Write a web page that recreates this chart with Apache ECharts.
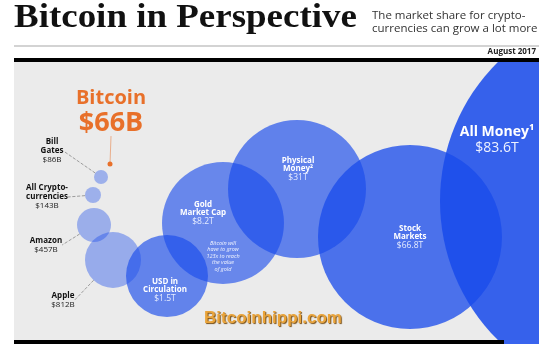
<!DOCTYPE html>
<html><head><meta charset="utf-8">
<script src="https://cdn.jsdelivr.net/npm/echarts@6/dist/echarts.min.js"></script>
<style>html,body{margin:0;padding:0;background:#fff}#c{width:539px;height:353px}</style>
</head><body><div id="c"></div>
<script>
// ---- data ----
const names = ['Bitcoin', 'Bill\nGates', 'All Crypto-\ncurrencies', 'Amazon', 'Apple',
  'USD in\nCirculation', 'Gold\nMarket Cap', 'Physical\nMoney²', 'Stock\nMarkets', 'All Money¹'];
const valueLabels = ['$66B', '$86B', '$143B', '$457B', '$812B', '$1.5T', '$8.2T', '$31T', '$66.8T', '$83.6T'];
// bubble layout of the infographic (centre x, centre y, radius) in layout units
const xPos = [110, 101, 93, 94, 113, 167, 223, 297, 410, 636];
const yPos = [164, 177, 195, 225, 260, 276, 223, 189, 237, 201];
const radius = [2.5, 7, 8, 17, 28, 41, 61, 69, 92, 196];

// ---- styling / label layout ----
const kinds = ['btc', 'out', 'out', 'out', 'out', 'in', 'in', 'in', 'in', 'big'];
const opac = [1, 0.37, 0.37, 0.38, 0.4, 0.65, 0.62, 0.66, 0.76, 0.86];
const labelShift = [[1, -52], [-49, -26], [-46, 2], [-48, 20], [-50, 40], [-2, 14], [-20, -10], [1, -20], [0, 0], [-139, -61]];
const FONT = '"Open Sans", "Noto Sans", sans-serif';

const richByKind = {
  btc: { n: { fontFamily: FONT, fontWeight: 'bold', fontSize: 20, color: '#e8702a', lineHeight: 22 },
         v: { fontFamily: FONT, fontWeight: 'bold', fontSize: 27, color: '#e8702a', lineHeight: 28 } },
  out: { n: { fontFamily: FONT, fontWeight: 'bold', fontSize: 8, color: '#111', lineHeight: 9 },
         v: { fontFamily: FONT, fontSize: 8, color: '#222', lineHeight: 9 } },
  in:  { n: { fontFamily: FONT, fontWeight: 'bold', fontSize: 8, color: '#fff', lineHeight: 8.5 },
         v: { fontFamily: FONT, fontSize: 8.5, color: '#e6ecff', lineHeight: 9 } },
  big: { n: { fontFamily: FONT, fontWeight: 'bold', fontSize: 14, color: '#fff', lineHeight: 16 },
         v: { fontFamily: FONT, fontSize: 14, color: '#eef2ff', lineHeight: 15 } }
};

const items = names.map((n, i) => {
  const k = kinds[i];
  const nameTxt = n.split('\n').map(s => '{n|' + s + '}').join('\n');
  return {
    name: n.replace('\n', ' '),
    value: [xPos[i], yPos[i], radius[i]],
    itemStyle: { color: k === 'btc' ? '#e8702a' : 'rgba(25,75,235,' + opac[i] + ')', opacity: 1 },
    label: {
      show: true, position: 'inside', align: 'center', verticalAlign: 'middle',
      formatter: nameTxt + '\n{v|' + valueLabels[i] + '}',
      rich: richByKind[k]
    },
    labelLine: {
      show: k === 'btc' || k === 'out',
      lineStyle: k === 'btc'
        ? { color: '#e8702a', width: 1, type: 'dotted' }
        : { color: '#888', width: 0.8, type: 'dashed' }
    }
  };
});

const chart = echarts.init(document.getElementById('c'), null, { renderer: 'canvas' });
chart.setOption({
  backgroundColor: '#ffffff',
  animation: false,
  grid: { left: 14, top: 62, right: 0, bottom: 13, show: true, backgroundColor: '#ebebeb', borderWidth: 0 },
  xAxis: { type: 'value', min: 14, max: 539, show: false },
  yAxis: { type: 'value', min: 62, max: 340, inverse: true, show: false },
  series: [{
    type: 'scatter',
    symbol: 'circle',
    symbolSize: v => v[2] * 2,
    data: items,
    clip: false,
    itemStyle: { opacity: 1 },
    labelLayout: p => ({ dx: labelShift[p.dataIndex][0], dy: labelShift[p.dataIndex][1] }),
    emphasis: { disabled: true },
    silent: true,
    z: 2
  }],
  graphic: [
    { type: 'rect', z: 50, shape: { x: 0, y: 0, width: 539, height: 58 }, style: { fill: '#fff' } },
    { type: 'rect', z: 50, shape: { x: 0, y: 344, width: 539, height: 9 }, style: { fill: '#fff' } },
    { type: 'rect', z: 51, shape: { x: 14, y: 58, width: 525, height: 4 }, style: { fill: '#000' } },
    { type: 'rect', z: 51, shape: { x: 14, y: 340, width: 490, height: 4 }, style: { fill: '#000' } },
    { type: 'rect', z: 51, shape: { x: 14, y: 45.5, width: 525, height: 1 }, style: { fill: '#a8a8a8' } },
    { type: 'text', z: 52, x: 14, y: 2, scaleX: 1.12, style: { text: 'Bitcoin in Perspective', font: 'bold 33px "Liberation Serif", serif', fill: '#111' } },
    { type: 'text', z: 52, x: 372, y: 9, style: { text: 'The market share for crypto-\ncurrencies can grow a lot more', font: '11.5px ' + FONT, fill: '#333', lineHeight: 13 } },
    { type: 'text', z: 52, x: 536, y: 48, style: { text: 'August 2017', font: 'bold 8px ' + FONT, fill: '#222', align: 'right' } },
    { type: 'text', z: 52, x: 223, y: 256, style: { text: 'Bitcoin will\nhave to grow\n123x to reach\nthe value\nof gold', font: 'italic 5.5px ' + FONT, fill: '#f2f5ff', align: 'center', verticalAlign: 'middle', lineHeight: 6.5 } },
    { type: 'text', z: 52, x: 273, y: 318, style: { text: 'Bitcoinhippi.com', font: 'bold 17px "Liberation Sans", sans-serif', fill: '#eaa43a', align: 'center', verticalAlign: 'middle', textShadowColor: '#7a4f14', textShadowOffsetX: 1, textShadowOffsetY: 1, textShadowBlur: 1 } }
  ]
});
</script></body></html>
